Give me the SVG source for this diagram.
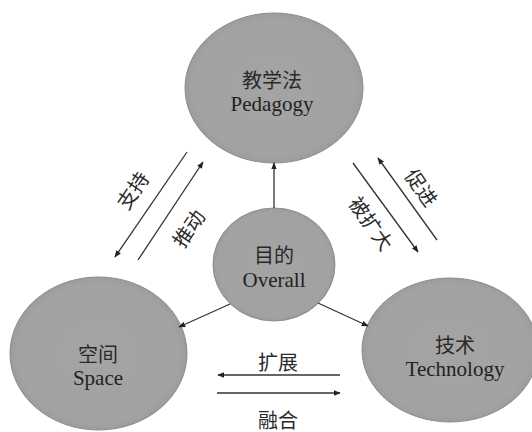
<svg xmlns="http://www.w3.org/2000/svg" width="532" height="432" viewBox="0 0 532 432">
<defs>
<marker id="ah" viewBox="0 0 10 10" refX="9" refY="5" markerWidth="7" markerHeight="7" markerUnits="userSpaceOnUse" orient="auto">
<path d="M0,1 L10,5 L0,9 z" fill="#222"/>
</marker>
<radialGradient id="g" cx="50%" cy="50%" r="50%">
<stop offset="0" stop-color="#a4a4a4"/>
<stop offset="0.92" stop-color="#a2a2a2"/>
<stop offset="1" stop-color="#9c9c9c"/>
</radialGradient>
</defs>
<style>
.node{fill:url(#g);stroke:#8c8c8c;stroke-width:1}
.cn{font-family:'Noto Sans CJK SC',sans-serif;font-size:20px;fill:#2a2a2a;text-anchor:middle}
.en{font-family:'Liberation Serif','DejaVu Serif',serif;font-size:21px;fill:#222;text-anchor:middle}
.ln{stroke:#333;stroke-width:1.3;fill:none;marker-end:url(#ah)}
.lb{font-family:'Noto Sans CJK SC',sans-serif;font-size:20px;fill:#2a2a2a;text-anchor:middle;dominant-baseline:central}
</style>
<rect width="532" height="432" fill="#fff"/>
<g id="pedagogy">
<ellipse class="node" cx="274" cy="88" rx="89" ry="75"/>
<text class="cn" x="272" y="88">教学法</text>
<text class="en" font-family="Liberation Serif, serif" x="272" y="111">Pedagogy</text>
</g>
<g id="overall">
<ellipse class="node" cx="274" cy="264.5" rx="61" ry="56.5"/>
<text class="cn" x="274" y="263">目的</text>
<text class="en" font-family="Liberation Serif, serif" x="274" y="287">Overall</text>
</g>
<g id="space">
<ellipse class="node" cx="98.5" cy="353.5" rx="88.5" ry="76.5"/>
<text class="cn" x="98" y="362">空间</text>
<text class="en" font-family="Liberation Serif, serif" x="98" y="385">Space</text>
</g>
<g id="technology">
<ellipse class="node" cx="450" cy="350" rx="88" ry="72"/>
<text class="cn" x="455" y="353">技术</text>
<text class="en" font-family="Liberation Serif, serif" x="455" y="376">Technology</text>
</g>
<g id="connectors">
<line class="ln" x1="274" y1="208" x2="274" y2="163"/>
<line class="ln" x1="230" y1="304" x2="179" y2="327"/>
<line class="ln" x1="318" y1="303" x2="368" y2="326"/>
<line class="ln" x1="187" y1="152" x2="115" y2="257"/>
<line class="ln" x1="138" y1="260" x2="203" y2="162"/>
<line class="ln" x1="437" y1="240" x2="378" y2="158"/>
<line class="ln" x1="353" y1="163" x2="418" y2="252"/>
<line class="ln" x1="340" y1="375" x2="218" y2="375"/>
<line class="ln" x1="217" y1="393" x2="340" y2="393"/>
<text class="lb" transform="translate(132,190) rotate(-56)">支持</text>
<text class="lb" transform="translate(188,228) rotate(-56)">推动</text>
<text class="lb" transform="translate(422,187) rotate(55)">促进</text>
<text class="lb" transform="translate(372,223) rotate(55)">被扩大</text>
<text class="lb" x="278" y="361">扩展</text>
<text class="lb" x="278" y="419">融合</text>
</g>
</svg>
